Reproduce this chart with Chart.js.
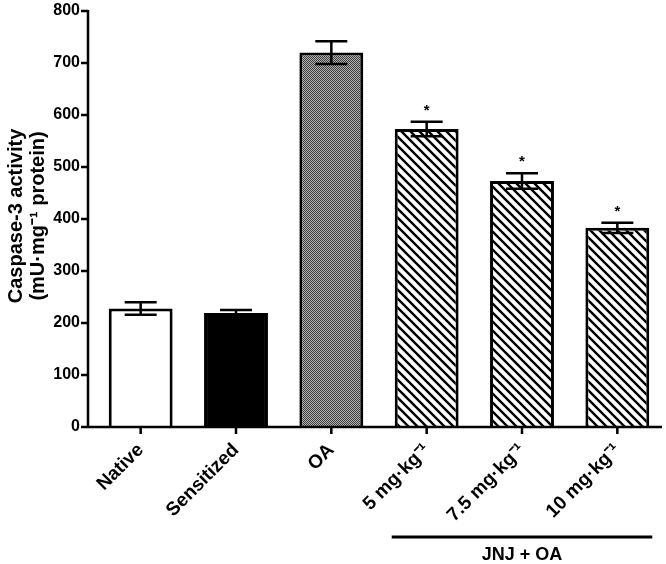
<!DOCTYPE html>
<html>
<head>
<meta charset="utf-8">
<script src="https://cdn.jsdelivr.net/npm/chart.js@4.4.1/dist/chart.umd.min.js"></script>
<style>
  html, body { margin: 0; padding: 0; background: #fff; }
  #wrap { width: 666px; height: 564px; }
</style>
</head>
<body>
<div id="wrap"><canvas id="caspaseChart" width="666" height="564"></canvas></div>
<script>
// values
const categories = ['Native', 'Sensitized', 'OA', '5 mg\u00B7kg\u207B\u00B9', '7.5 mg\u00B7kg\u207B\u00B9', '10 mg\u00B7kg\u207B\u00B9'];
const caspaseMeans = [228, 219, 720, 573, 473, 383];
const caspaseErrors = [12, 6, 22, 14, 15, 10];
const significant = [false, false, false, true, true, true];
const yTickMin = 0;
const yTickMax = 800;
const yTickStep = 100;
const yTitle = ['Caspase-3 activity', '(mU\u00B7mg\u207B\u00B9 protein)'];
const groupLabel = 'JNJ + OA';
const groupFirst = 3;
const groupLast = 5;

const FONT = "'Liberation Sans', Arial, Helvetica, sans-serif";

function makeHatch() {
    const c = document.createElement('canvas');
    c.width = 9; c.height = 9;
    const g = c.getContext('2d');
    g.fillStyle = '#fff';
    g.fillRect(0, 0, 9, 9);
    g.strokeStyle = '#000';
    g.lineWidth = 2.4;
    g.beginPath();
    g.moveTo(-2, -2); g.lineTo(11, 11);
    g.moveTo(-2, 7); g.lineTo(2, 11);
    g.moveTo(7, -2); g.lineTo(11, 2);
    g.stroke();
    return g.createPattern(c, 'repeat');
}

function makeDots() {
    const c = document.createElement('canvas');
    c.width = 2; c.height = 2;
    const g = c.getContext('2d');
    g.fillStyle = '#b4b4b4';
    g.fillRect(0, 0, 2, 2);
    g.fillStyle = '#3c3c3c';
    g.fillRect(0, 0, 1, 1);
    g.fillRect(1, 1, 1, 1);
    return g.createPattern(c, 'repeat');
}

const ctx = document.getElementById('caspaseChart').getContext('2d');
const hatch = makeHatch();
const fills = ['#ffffff', '#000000', makeDots(), hatch, hatch, hatch];

// error bars + asterisks
const errorBars = {
    id: 'errorBars',
    afterDatasetsDraw(chart) {
        const c = chart.ctx;
        const y = chart.scales.y;
        const meta = chart.getDatasetMeta(0);
        c.save();
        c.strokeStyle = '#000';
        c.lineWidth = 2.5;
        meta.data.forEach((bar, i) => {
            const x = bar.x;
            const top = y.getPixelForValue(caspaseMeans[i] + caspaseErrors[i]);
            const bot = y.getPixelForValue(caspaseMeans[i] - caspaseErrors[i]);
            c.beginPath();
            c.moveTo(x, top); c.lineTo(x, bot);
            c.moveTo(x - 16, top); c.lineTo(x + 16, top);
            c.moveTo(x - 16, bot); c.lineTo(x + 16, bot);
            c.stroke();
            if (significant[i]) {
                c.fillStyle = '#000';
                c.font = 'bold 15px ' + FONT;
                c.textAlign = 'center';
                c.textBaseline = 'middle';
                c.fillText('*', x, top - 11);
            }
        });
        c.restore();
    }
};

// axes drawn the Prism way: y axis slightly left of the first category
const prismAxes = {
    id: 'prismAxes',
    afterDraw(chart) {
        const c = chart.ctx;
        const area = chart.chartArea;
        const y = chart.scales.y;
        const x = chart.scales.x;
        const axisX = area.left - 5;
        c.save();
        c.strokeStyle = '#000';
        c.lineWidth = 2.5;
        c.beginPath();
        c.moveTo(axisX, area.top - 1);
        c.lineTo(axisX, area.bottom);
        c.lineTo(area.right - 3, area.bottom);
        for (let v = yTickMin; v <= yTickMax; v += yTickStep) {
            const py = y.getPixelForValue(v);
            c.moveTo(axisX - 7, py); c.lineTo(axisX, py);
        }
        categories.forEach((_, i) => {
            const px = x.getPixelForValue(i);
            c.moveTo(px, area.bottom); c.lineTo(px, area.bottom + 7);
        });
        c.stroke();

        // y title
        c.fillStyle = '#000';
        c.font = 'bold 20px ' + FONT;
        c.textAlign = 'center';
        c.textBaseline = 'middle';
        c.translate(0, 216);
        c.rotate(-Math.PI / 2);
        c.fillText(yTitle[0], 0, 16);
        c.fillText(yTitle[1], 0, 38);
        c.restore();

        // group bracket
        const meta = chart.getDatasetMeta(0);
        const b0 = meta.data[groupFirst];
        const b1 = meta.data[groupLast];
        const x0 = b0.x - b0.width / 2 - 3;
        const x1 = b1.x + b1.width / 2 + 3;
        c.save();
        c.strokeStyle = '#000';
        c.lineWidth = 3;
        c.beginPath();
        c.moveTo(x0, 537); c.lineTo(x1, 537);
        c.stroke();
        c.fillStyle = '#000';
        c.font = 'bold 18px ' + FONT;
        c.textAlign = 'center';
        c.textBaseline = 'middle';
        c.fillText(groupLabel, (x0 + x1) / 2, 555);
        c.restore();
    }
};

new Chart(ctx, {
    type: 'bar',
    data: {
        labels: categories,
        datasets: [{
            label: 'Caspase-3 activity',
            data: caspaseMeans,
            backgroundColor: fills,
            borderColor: '#000',
            borderWidth: 3,
            borderSkipped: 'bottom',
            barPercentage: 0.67,
            categoryPercentage: 1.0
        }]
    },
    options: {
        responsive: false,
        animation: false,
        events: [],
        layout: { padding: { top: 11, right: 1, bottom: 0, left: 0 } },
        plugins: {
            legend: { display: false },
            tooltip: { enabled: false }
        },
        scales: {
            y: {
                min: yTickMin,
                max: yTickMax,
                grid: { display: false, drawTicks: false },
                border: { display: false },
                ticks: {
                    stepSize: yTickStep,
                    padding: 13,
                    color: '#000',
                    font: { family: FONT, size: 16, weight: 'bold' }
                },
                afterFit(scale) {
                    scale.width = 93;
                    scale.paddingTop = 0;
                    scale.paddingBottom = 0;
                }
            },
            x: {
                grid: { display: false, drawTicks: false },
                border: { display: false },
                ticks: {
                    autoSkip: false,
                    minRotation: 45,
                    maxRotation: 45,
                    padding: 12,
                    color: '#000',
                    font: { family: FONT, size: 19, weight: 'bold' }
                },
                afterFit(scale) {
                    scale.height = 137;
                    scale.paddingLeft = 0;
                    scale.paddingRight = 0;
                }
            }
        }
    },
    plugins: [errorBars, prismAxes]
});
</script>
</body>
</html>
